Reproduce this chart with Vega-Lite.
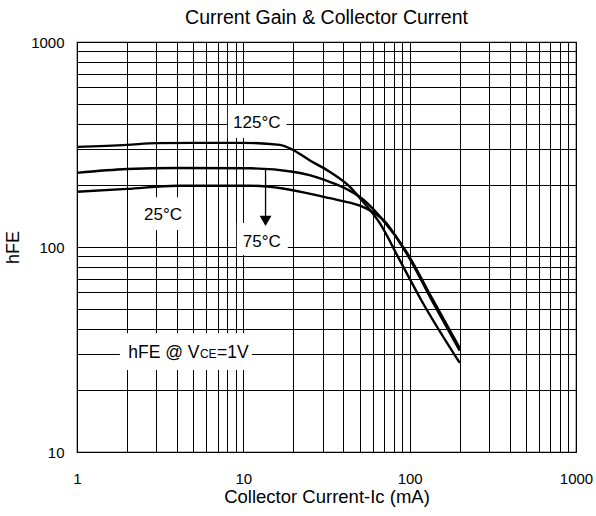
{
  "$schema": "https://vega.github.io/schema/vega-lite/v6.json",
  "width": 499,
  "height": 410,
  "autosize": {"type": "none"},
  "padding": {"left": 77, "top": 42, "right": 20, "bottom": 64},
  "background": "white",
  "config": {
    "font": "Liberation Sans",
    "view": {"stroke": "black", "strokeWidth": 1.2}
  },
  "title": {"text": "Current Gain & Collector Current", "fontSize": 19.5, "fontWeight": "normal", "color": "black", "offset": 7, "font": "Liberation Sans"},
  "datasets": {
    "curves": [
      {"series": "125°C", "ic": 1, "hfe": 308},
      {"series": "125°C", "ic": 2, "hfe": 315},
      {"series": "125°C", "ic": 3, "hfe": 321},
      {"series": "125°C", "ic": 5, "hfe": 322},
      {"series": "125°C", "ic": 10, "hfe": 322},
      {"series": "125°C", "ic": 16.6, "hfe": 315},
      {"series": "125°C", "ic": 19.8, "hfe": 298},
      {"series": "125°C", "ic": 25, "hfe": 265},
      {"series": "125°C", "ic": 33, "hfe": 233},
      {"series": "125°C", "ic": 43.6, "hfe": 197},
      {"series": "125°C", "ic": 51.5, "hfe": 169},
      {"series": "125°C", "ic": 66, "hfe": 131},
      {"series": "125°C", "ic": 87, "hfe": 86.5},
      {"series": "125°C", "ic": 117.5, "hfe": 55},
      {"series": "125°C", "ic": 200, "hfe": 27.2},
      {"series": "75°C", "ic": 1, "hfe": 230},
      {"series": "75°C", "ic": 2, "hfe": 240},
      {"series": "75°C", "ic": 4, "hfe": 243},
      {"series": "75°C", "ic": 11, "hfe": 242},
      {"series": "75°C", "ic": 19.8, "hfe": 233},
      {"series": "75°C", "ic": 25, "hfe": 224},
      {"series": "75°C", "ic": 33, "hfe": 208},
      {"series": "75°C", "ic": 39.6, "hfe": 196},
      {"series": "75°C", "ic": 52.3, "hfe": 171},
      {"series": "75°C", "ic": 69, "hfe": 135.5},
      {"series": "75°C", "ic": 95.5, "hfe": 94.8},
      {"series": "75°C", "ic": 137.5, "hfe": 55.5},
      {"series": "75°C", "ic": 200, "hfe": 32.1},
      {"series": "25°C", "ic": 1, "hfe": 186},
      {"series": "25°C", "ic": 2, "hfe": 192},
      {"series": "25°C", "ic": 4, "hfe": 199},
      {"series": "25°C", "ic": 11, "hfe": 199},
      {"series": "25°C", "ic": 17.3, "hfe": 193},
      {"series": "25°C", "ic": 30, "hfe": 176},
      {"series": "25°C", "ic": 33, "hfe": 173},
      {"series": "25°C", "ic": 43.6, "hfe": 164.5},
      {"series": "25°C", "ic": 52.3, "hfe": 157},
      {"series": "25°C", "ic": 71, "hfe": 133},
      {"series": "25°C", "ic": 95.5, "hfe": 93.5},
      {"series": "25°C", "ic": 137.5, "hfe": 54},
      {"series": "25°C", "ic": 200, "hfe": 31.2}
    ],
    "boxes": [
      {"name": "125", "x1": 8.07, "x2": 18.2, "y1": 340, "y2": 493},
      {"name": "25", "x1": 2.23, "x2": 4.91, "y1": 121, "y2": 175},
      {"name": "75", "x1": 9.14, "x2": 18.5, "y1": 91.4, "y2": 131},
      {"name": "cond", "x1": 1.81, "x2": 11.25, "y1": 25.1, "y2": 38.0}
    ],
    "labels": [
      {"text": "125°C", "ic": 12.05, "hfe": 403},
      {"text": "25°C", "ic": 3.29, "hfe": 143},
      {"text": "75°C", "ic": 12.9, "hfe": 106}
    ],
    "cond": [
      {"text": "hFE @ V", "ic": 5.45, "hfe": 28.8, "part": "a"},
      {"text": "CE", "ic": 5.48, "hfe": 28.8, "part": "b"},
      {"text": "=1V", "ic": 6.95, "hfe": 28.8, "part": "c"}
    ],
    "arrow": [
      {"ic": 13.6, "top": 243, "bottom": 140, "head": 134}
    ]
  },
  "layer": [
    {
      "data": {"name": "boxes"},
      "mark": {"type": "rect", "fill": "white", "stroke": null},
      "encoding": {
        "x": {"field": "x1", "type": "quantitative", "scale": {"type": "log", "domain": [1, 1000], "nice": false}, "axis": {
          "title": "Collector Current-Ic (mA)",
          "values": [1,2,3,4,5,6,7,8,9,10,20,30,40,50,60,70,80,90,100,200,300,400,500,600,700,800,900,1000],
          "labelExpr": "indexof([1,10,100,1000], datum.value) >= 0 ? format(datum.value, 'd') : ''",
          "grid": true, "gridColor": "black", "gridOpacity": 1, "gridWidth": 1,
          "ticks": false, "domain": false, "labelFlush": false, "labelOverlap": false,
          "labelFontSize": 15, "labelColor": "black", "labelPadding": 19, "labelFont": "Liberation Sans",
          "titleFontSize": 18.5, "titleFontWeight": "normal", "titleColor": "black", "titlePadding": 1, "titleFont": "Liberation Sans"
        }},
        "x2": {"field": "x2"},
        "y": {"field": "y1", "type": "quantitative", "scale": {"type": "log", "domain": [10, 1000], "nice": false}, "axis": {
          "title": "hFE",
          "values": [10,20,30,40,50,60,70,80,90,100,200,300,400,500,600,700,800,900,1000],
          "labelExpr": "indexof([10,100,1000], datum.value) >= 0 ? format(datum.value, 'd') : ''",
          "grid": true, "gridColor": "black", "gridOpacity": 1, "gridWidth": 1,
          "ticks": false, "domain": false, "labelFlush": false, "labelOverlap": false,
          "labelFontSize": 15, "labelColor": "black", "labelPadding": 13, "labelFont": "Liberation Sans",
          "titleFontSize": 18, "titleFontWeight": "normal", "titleColor": "black", "titlePadding": 8, "titleFont": "Liberation Sans"
        }},
        "y2": {"field": "y2"}
      }
    },
    {
      "data": {"name": "curves"},
      "mark": {"type": "line", "color": "black", "strokeWidth": 2.4, "interpolate": "monotone"},
      "encoding": {
        "x": {"field": "ic", "type": "quantitative"},
        "y": {"field": "hfe", "type": "quantitative"},
        "detail": {"field": "series"}
      }
    },
    {
      "data": {"name": "labels"},
      "mark": {"type": "text", "color": "black", "fontSize": 17, "baseline": "middle", "align": "center", "font": "Liberation Sans"},
      "encoding": {
        "x": {"field": "ic", "type": "quantitative"},
        "y": {"field": "hfe", "type": "quantitative"},
        "text": {"field": "text"}
      }
    },
    {
      "data": {"name": "cond"},
      "transform": [{"filter": "datum.part == 'a'"}],
      "mark": {"type": "text", "color": "black", "fontSize": 17.5, "baseline": "alphabetic", "align": "right", "font": "Liberation Sans"},
      "encoding": {
        "x": {"field": "ic", "type": "quantitative"},
        "y": {"field": "hfe", "type": "quantitative"},
        "text": {"field": "text"}
      }
    },
    {
      "data": {"name": "cond"},
      "transform": [{"filter": "datum.part == 'b'"}],
      "mark": {"type": "text", "color": "black", "fontSize": 12, "baseline": "alphabetic", "align": "left", "font": "Liberation Sans"},
      "encoding": {
        "x": {"field": "ic", "type": "quantitative"},
        "y": {"field": "hfe", "type": "quantitative"},
        "text": {"field": "text"}
      }
    },
    {
      "data": {"name": "cond"},
      "transform": [{"filter": "datum.part == 'c'"}],
      "mark": {"type": "text", "color": "black", "fontSize": 17.5, "baseline": "alphabetic", "align": "left", "font": "Liberation Sans"},
      "encoding": {
        "x": {"field": "ic", "type": "quantitative"},
        "y": {"field": "hfe", "type": "quantitative"},
        "text": {"field": "text"}
      }
    },
    {
      "data": {"name": "arrow"},
      "mark": {"type": "rule", "color": "black", "strokeWidth": 1.3},
      "encoding": {
        "x": {"field": "ic", "type": "quantitative"},
        "y": {"field": "top", "type": "quantitative"},
        "y2": {"field": "bottom"}
      }
    },
    {
      "data": {"name": "arrow"},
      "mark": {"type": "point", "shape": "triangle-down", "filled": true, "color": "black", "size": 140, "opacity": 1},
      "encoding": {
        "x": {"field": "ic", "type": "quantitative"},
        "y": {"field": "head", "type": "quantitative"}
      }
    }
  ]
}
